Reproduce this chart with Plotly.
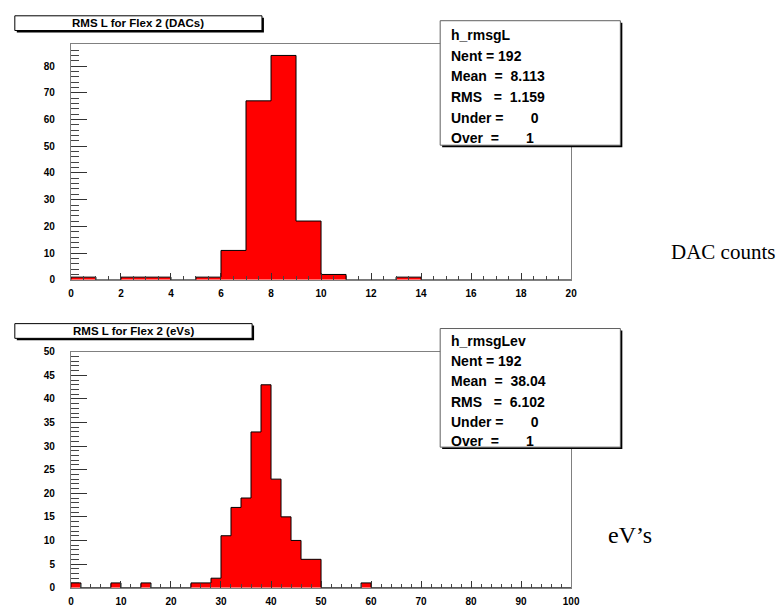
import numpy as np
import plotly.graph_objects as go

W, H = 781, 610

# ---- histogram contents ----
# RMS L for Flex 2, DAC units: 20 bins of width 1 on [0, 20]
dac_lo, dac_width = 0.0, 1.0
dac_counts = [1, 0, 1, 1, 0, 1, 11, 67, 84, 22,
              2, 0, 0, 1, 0, 0, 0, 0, 0, 0]

# RMS L for Flex 2, eV units: 50 bins of width 2 on [0, 100]
ev_lo, ev_width = 0.0, 2.0
ev_counts = [1, 0, 0, 0, 1, 0, 0, 1, 0, 0,
             0, 0, 1, 1, 2, 11, 17, 19, 33, 43,
             23, 15, 10, 6, 6, 0, 0, 0, 0, 1,
             0, 0, 0, 0, 0, 0, 0, 0, 0, 0,
             0, 0, 0, 0, 0, 0, 0, 0, 0, 0]

dac_title = "RMS L for Flex 2 (DACs)"
ev_title = "RMS L for Flex 2 (eVs)"

NB = "\u00a0"
dac_stats = ["h_rmsgL", "Nent = 192",
             f"Mean{NB*2}={NB*2}8.113",
             f"RMS{NB*3}={NB*2}1.159",
             f"Under{NB}={NB*7}0",
             f"Over{NB*2}={NB*7}1"]
ev_stats = ["h_rmsgLev", "Nent = 192",
            f"Mean{NB*2}={NB*2}38.04",
            f"RMS{NB*3}={NB*2}6.102",
            f"Under{NB}={NB*7}0",
            f"Over{NB*2}={NB*7}1"]

side_labels = ["DAC counts", "eV\u2019s"]


def px(x):
    return x / W


def py(y):
    return 1 - y / H


def step_outline(lo, width, counts):
    """Closed step contour of a histogram (ROOT-style filled histogram)."""
    n = len(counts)
    edges = lo + width * np.arange(n + 1)
    xs = [edges[0]] + list(edges[:-1]) + [edges[-1], edges[-1]]
    ys = [0] + list(counts) + [counts[-1], 0]
    return xs, ys


fig = go.Figure()

for lo, width, counts, ax in [(dac_lo, dac_width, dac_counts, ""),
                              (ev_lo, ev_width, ev_counts, "2")]:
    xs, ys = step_outline(lo, width, counts)
    fig.add_trace(go.Scatter(
        x=xs, y=ys, mode="lines", line_shape="hv",
        line=dict(color="black", width=1),
        fill="tozeroy", fillcolor="#ff0000",
        xaxis="x" + ax, yaxis="y" + ax, hoverinfo="skip", showlegend=False))

tick_font = dict(family="Liberation Sans Narrow, Liberation Sans, Arial",
                 size=10, color="black", weight="bold")
axis_common = dict(showline=True, linecolor="#808080", linewidth=1, mirror=True,
                   showgrid=False, zeroline=False, ticks="inside",
                   tickcolor="#333333", tickfont=tick_font)

x_left, x_right = px(69), px(577)
fig.update_layout(
    width=W, height=H, margin=dict(l=0, r=0, t=0, b=0),
    paper_bgcolor="white", plot_bgcolor="white", showlegend=False,
    xaxis=dict(domain=[x_left, x_right], range=[0, 20], dtick=2, tick0=0,
               ticklen=7, ticklabelstandoff=4, anchor="y",
               minor=dict(dtick=0.5, ticks="inside", ticklen=4, tickcolor="#444444"),
               **axis_common),
    yaxis=dict(domain=[py(279.3), py(39)], range=[0, 88.2], dtick=10, tick0=0,
               ticklen=16, ticklabelstandoff=13, anchor="x",
               minor=dict(dtick=2, ticks="inside", ticklen=8, tickcolor="#444444"),
               **axis_common),
    xaxis2=dict(domain=[x_left, x_right], range=[0, 100], dtick=10, tick0=0,
                ticklen=7, ticklabelstandoff=4, anchor="y2",
                minor=dict(dtick=2, ticks="inside", ticklen=4, tickcolor="#444444"),
                **axis_common),
    yaxis2=dict(domain=[py(593.3), py(352.7)], range=[0, 50], dtick=5, tick0=0,
                ticklen=16, ticklabelstandoff=13, anchor="x2",
                minor=dict(dtick=1, ticks="inside", ticklen=8, tickcolor="#444444"),
                **axis_common),
)

shapes = []
annotations = []


def shadow_box(x0, y0, x1, y1, edge="black"):
    shapes.append(dict(type="rect", xref="paper", yref="paper",
                       x0=px(x0 + 2), x1=px(x1 + 2), y0=py(y1 + 2), y1=py(y0 + 2),
                       fillcolor="black", line=dict(width=0), layer="above"))
    shapes.append(dict(type="rect", xref="paper", yref="paper",
                       x0=px(x0), x1=px(x1), y0=py(y1), y1=py(y0),
                       fillcolor="white", line=dict(color=edge, width=1), layer="above"))


# title boxes
for (x0, y0, x1, y1), text in [((12, 10, 263, 25), dac_title),
                               ((12, 324, 253, 339), ev_title)]:
    shadow_box(x0, y0, x1, y1)
    annotations.append(dict(xref="paper", yref="paper", x=px((x0 + x1) / 2),
                            y=py((y0 + y1) / 2), text=text, showarrow=False,
                            xanchor="center", yanchor="middle",
                            font=dict(family="Liberation Sans, Arial", size=11.5,
                                      color="black", weight="bold")))

# statistics boxes
for (x0, y0, x1, y1), rows, row_y in [((444, 15, 627, 142), dac_stats,
                                       [30, 50.5, 71.5, 92.5, 114, 135]),
                                      ((444, 329, 627, 450), ev_stats,
                                       [342, 362.5, 383, 403.5, 424, 444])]:
    shadow_box(x0, y0, x1, y1, edge="#606060")
    for text, yy in zip(rows, row_y):
        annotations.append(dict(xref="paper", yref="paper", x=px(453), y=py(yy),
                                text=text, showarrow=False, xanchor="left",
                                yanchor="middle",
                                font=dict(family="Liberation Sans, Arial", size=14,
                                          color="black", weight="bold")))

# unit captions beside each histogram
for text, (xx, yy), size in zip(side_labels, [(731, 251), (637, 540)], [21, 24]):
    annotations.append(dict(xref="paper", yref="paper", x=px(xx), y=py(yy),
                            text=text, showarrow=False, xanchor="center",
                            yanchor="middle",
                            font=dict(family="Liberation Serif, Times New Roman",
                                      size=size, color="black")))

fig.update_layout(shapes=shapes, annotations=annotations)

fig.write_html("out.html")
